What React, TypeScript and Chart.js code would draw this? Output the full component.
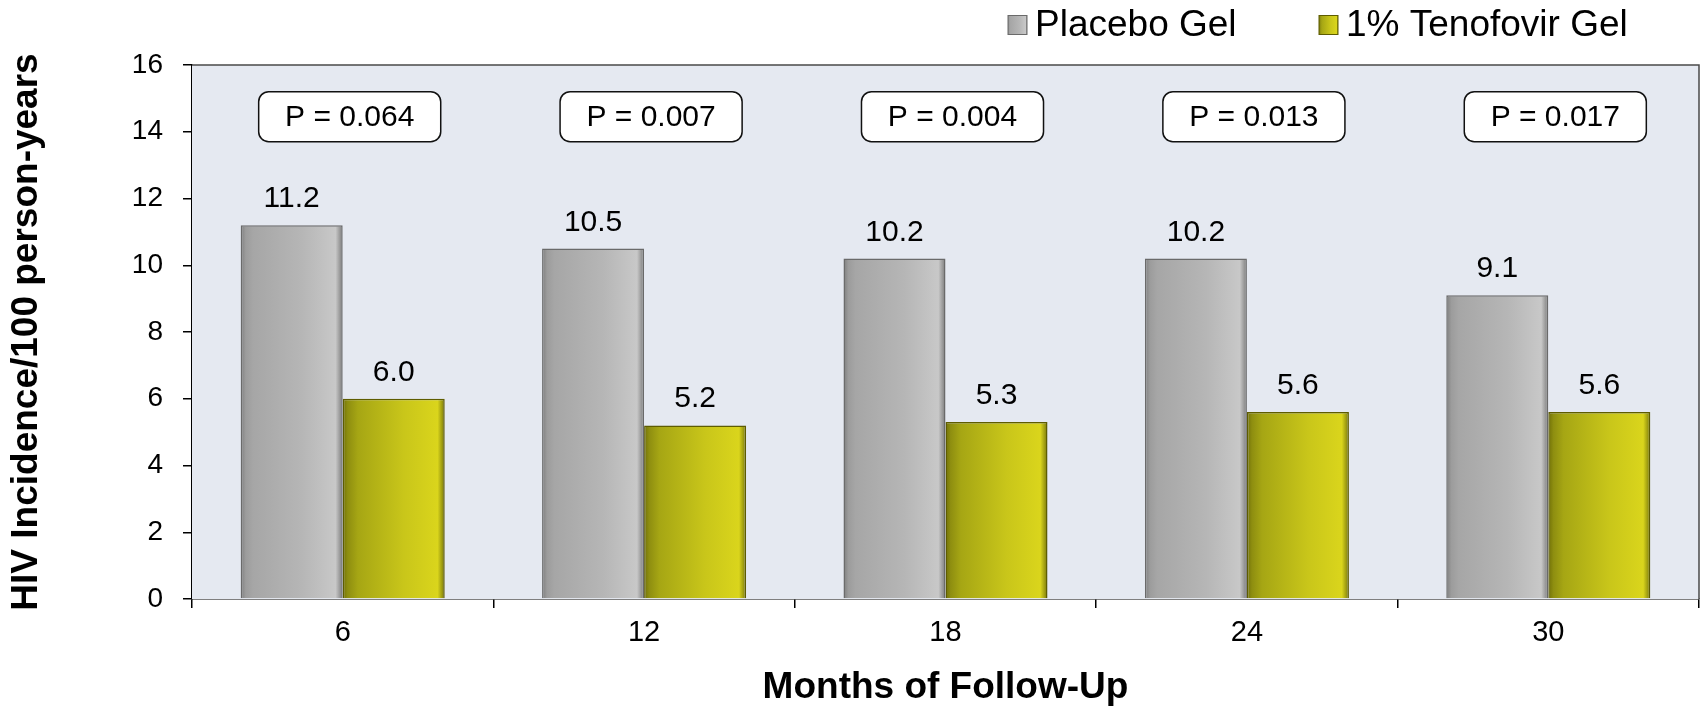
import React, { useEffect, useRef } from 'react';
import { Chart, registerables } from 'chart.js';

Chart.register(...registerables);

// ---------- data ----------
const categories = ['6', '12', '18', '24', '30'];
const seriesNames = ['Placebo Gel', '1% Tenofovir Gel'];
const placebo = [11.2, 10.5, 10.2, 10.2, 9.1];
const tenofovir = [6.0, 5.2, 5.3, 5.6, 5.6];
const pLabels = ['P = 0.064', 'P = 0.007', 'P = 0.004', 'P = 0.013', 'P = 0.017'];
const yMin = 0;
const yMax = 16;
const yStep = 2;
const xTitle = 'Months of Follow-Up';
const yTitle = 'HIV Incidence/100 person-years';

// P box vertical extent (in data units)
const pBoxTop = 15.2;
const pBoxBottom = 13.7;

// ---------- style ----------
const FONT = '"Liberation Sans", Arial, Helvetica, sans-serif';
const CAT_PCT = 0.677;
const PLOT_BG = '#E5E9F1';

const grayStops: [number, string][] = [
  [0, '#7e7e7e'], [0.05, '#9c9c9c'], [0.12, '#a6a6a6'], [0.6, '#b6b6b6'], [0.93, '#c8c8c8'], [1, '#7a7a7a'],
];
const yellowStops: [number, string][] = [
  [0, '#707008'], [0.05, '#8e8e10'], [0.15, '#a6a614'], [0.6, '#c9c61a'], [0.93, '#dad51c'], [1, '#77760a'],
];
const stopsFor = [grayStops, yellowStops];
const borderFor = ['#6a6a6a', '#5e5c00'];

function makeGradient(ctx: CanvasRenderingContext2D, left: number, width: number, stops: [number, string][]) {
  const g = ctx.createLinearGradient(left, 0, left + width, 0);
  stops.forEach(([o, c]) => g.addColorStop(o, c));
  return g;
}

const decorPlugin = {
  id: 'decor',
  beforeDatasetsDraw(chart: any) {
    const { ctx, chartArea } = chart;
    ctx.save();
    ctx.fillStyle = PLOT_BG;
    ctx.fillRect(chartArea.left, chartArea.top, chartArea.right - chartArea.left, chartArea.bottom - chartArea.top);
    ctx.strokeStyle = '#4a4a4a';
    ctx.lineWidth = 1.5;
    ctx.beginPath();
    ctx.moveTo(chartArea.left, chartArea.top);
    ctx.lineTo(chartArea.right, chartArea.top);
    ctx.lineTo(chartArea.right, chartArea.bottom);
    ctx.stroke();
    ctx.restore();
  },
  afterDatasetsDraw(chart: any) {
    const { ctx } = chart;
    const xs = chart.scales.x;
    const ys = chart.scales.y;
    ctx.save();
    // value labels
    ctx.fillStyle = '#000';
    ctx.font = `30px ${FONT}`;
    ctx.textAlign = 'center';
    ctx.textBaseline = 'alphabetic';
    chart.data.datasets.forEach((ds: any, di: number) => {
      const meta = chart.getDatasetMeta(di);
      meta.data.forEach((el: any, i: number) => {
        ctx.fillText(Number(ds.data[i]).toFixed(1), el.x, el.y - 18);
      });
    });
    // P value boxes
    const catW = (xs.right - xs.left) / categories.length;
    const w = catW * 0.604;
    const shift = 7;
    const top = ys.getPixelForValue(pBoxTop);
    const bottom = ys.getPixelForValue(pBoxBottom);
    pLabels.forEach((t, i) => {
      const cx = xs.getPixelForValue(i) + shift;
      ctx.beginPath();
      (ctx as any).roundRect(cx - w / 2, top, w, bottom - top, 10);
      ctx.fillStyle = '#fff';
      ctx.fill();
      ctx.lineWidth = 1.5;
      ctx.strokeStyle = '#111';
      ctx.stroke();
      ctx.fillStyle = '#000';
      ctx.textBaseline = 'middle';
      ctx.fillText(t, cx, (top + bottom) / 2 + 1);
    });
    ctx.restore();
  },
  afterDraw(chart: any) {
    const { ctx } = chart;
    ctx.save();
    ctx.font = `37px ${FONT}`;
    ctx.textBaseline = 'middle';
    ctx.textAlign = 'left';
    const legendY = 25;
    const legendX = [1008, 1319];
    const box = 19;
    seriesNames.forEach((name, i) => {
      const x = legendX[i];
      ctx.fillStyle = makeGradient(ctx, x, box, stopsFor[i]);
      ctx.fillRect(x, legendY - box / 2, box, box);
      ctx.strokeStyle = borderFor[i];
      ctx.lineWidth = 1;
      ctx.strokeRect(x, legendY - box / 2, box, box);
      ctx.fillStyle = '#000';
      ctx.fillText(name, x + box + 8, legendY + 1);
    });
    ctx.restore();
  },
};

function barColor(di: number) {
  return (c: any) => {
    const chart = c.chart;
    const xs = chart.scales && chart.scales.x;
    if (!xs || c.type !== 'data' || !chart.chartArea) return stopsFor[di][3][1];
    const catW = (xs.right - xs.left) / categories.length;
    const bw = (catW * CAT_PCT) / 2;
    const cx = xs.getPixelForValue(c.dataIndex);
    const left = cx + (di - 1) * bw;
    return makeGradient(chart.ctx, left, bw, stopsFor[di]);
  };
}

export default function App() {
  const ref = useRef<HTMLCanvasElement | null>(null);
  useEffect(() => {
    document.body.style.margin = '0';
    const canvas = ref.current!;
    Chart.defaults.color = '#000';
    Chart.defaults.font.family = FONT;
    const chart = new Chart(canvas, {
      type: 'bar',
      data: {
        labels: categories,
        datasets: [
          {
            label: seriesNames[0],
            data: placebo,
            backgroundColor: barColor(0),
            borderColor: borderFor[0],
            borderWidth: 1.5,
            categoryPercentage: CAT_PCT,
            barPercentage: 1,
          },
          {
            label: seriesNames[1],
            data: tenofovir,
            backgroundColor: barColor(1),
            borderColor: borderFor[1],
            borderWidth: 1.5,
            categoryPercentage: CAT_PCT,
            barPercentage: 1,
          },
        ],
      },
      options: {
        responsive: false,
        animation: false,
        devicePixelRatio: 1,
        layout: { padding: { top: 65, right: 3, left: 0, bottom: 0 } },
        plugins: { legend: { display: false }, tooltip: { enabled: false } },
        scales: {
          x: {
            afterFit: (s: any) => { s.height = 107; },
            grid: { offset: true, drawOnChartArea: false, tickLength: 9, color: '#000', lineWidth: 1.5 },
            border: { display: true, color: '#000', width: 1.5 },
            ticks: { font: { size: 29, family: FONT }, color: '#000', padding: 8 },
            title: {
              display: true,
              text: xTitle,
              color: '#000',
              font: { size: 37, weight: 'bold', family: FONT, lineHeight: 1 },
              padding: { top: 0, bottom: 0 },
            },
          },
          y: {
            min: yMin,
            max: yMax,
            afterFit: (s: any) => { s.width = 192; },
            grid: { drawOnChartArea: false, tickLength: 9, color: '#000', lineWidth: 1.5 },
            border: { display: true, color: '#000', width: 1.5 },
            ticks: { stepSize: yStep, font: { size: 28, family: FONT }, color: '#000', padding: 20 },
            title: {
              display: true,
              text: yTitle,
              color: '#000',
              font: { size: 37, weight: 'bold', family: FONT, lineHeight: 1.2 },
              padding: { top: 5, bottom: 0 },
            },
          },
        },
      },
      plugins: [decorPlugin],
    } as any);
    return () => chart.destroy();
  }, []);
  return (
    <div style={{ width: 1702, height: 706 }}>
      <canvas ref={ref} width={1702} height={706} style={{ display: 'block', width: 1702, height: 706 }} />
    </div>
  );
}
